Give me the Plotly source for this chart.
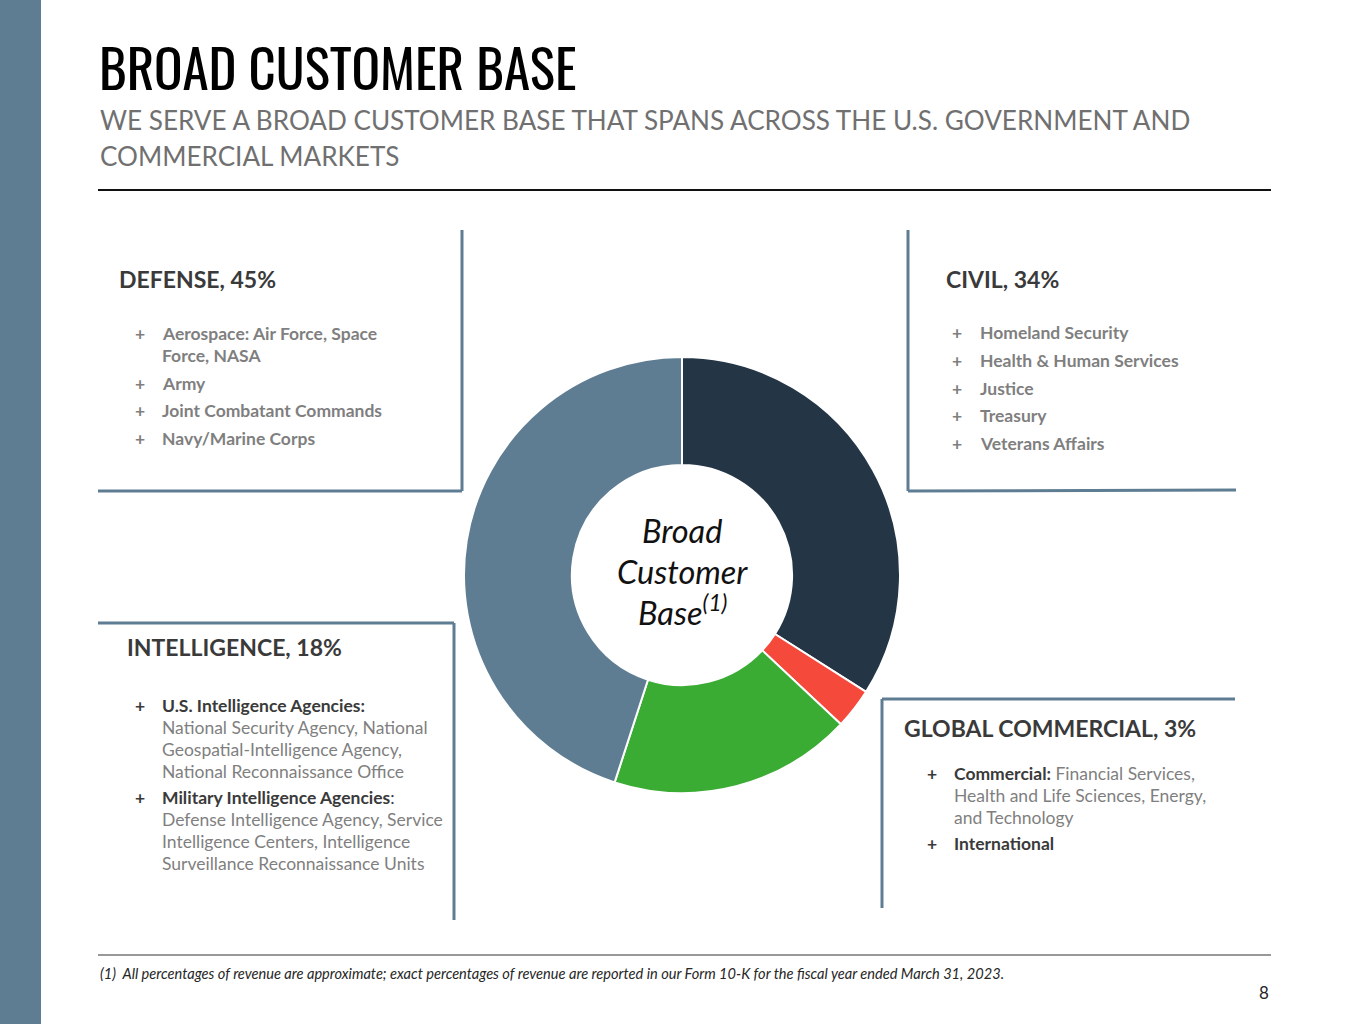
import plotly.graph_objects as go

W, H = 1365, 1024

# ---- data ----
segments = ["Civil", "Global Commercial", "Intelligence", "Defense"]
shares = [34, 3, 18, 45]
seg_colors = ["#243546", "#f5493c", "#3aac33", "#5e7d93"]

title = "BROAD CUSTOMER BASE"
subtitle_lines = ["WE SERVE A BROAD CUSTOMER BASE THAT SPANS ACROSS THE U.S. GOVERNMENT AND",
                  "COMMERCIAL MARKETS"]
footnote = "(1)  All percentages of revenue are approximate; exact percentages of revenue are reported in our Form 10-K for the fiscal year ended March 31, 2023."

BODY = "Lato, 'Open Sans', sans-serif"
TITLE_FONT = "Oswald, 'Roboto Condensed', 'Liberation Sans Narrow', 'DejaVu Sans Condensed', sans-serif"
DARK = "#3a3a3a"
GRAY = "#7f7f7f"
LINE = "#5e7d93"
BS = 17.5   # bullet text size
HS = 23     # heading size


def px(x):
    return x / W


def py(y):
    return 1 - y / H


fig = go.Figure()
fig.add_trace(go.Pie(
    labels=segments, values=shares, sort=False, direction="clockwise",
    rotation=0, hole=0.505,
    marker=dict(colors=seg_colors, line=dict(color="white", width=2)),
    textinfo="none", hoverinfo="label+percent", showlegend=False,
    domain=dict(x=[px(464), px(900)], y=[py(793), py(357)]),
))

ann = []


def txt(x, y, text, size, color, family=BODY, xanchor="left"):
    if xanchor == "left":
        x -= 2
    ann.append(dict(x=px(x), y=py(y), xref="paper", yref="paper", text=text,
                    showarrow=False, xanchor=xanchor, yanchor="middle",
                    font=dict(size=size, color=color, family=family)))


# title & subtitle
txt(99, 66, title, 53, "#000000", TITLE_FONT)
txt(100, 120, subtitle_lines[0], 26.1, "#707070")
txt(100, 156, subtitle_lines[1], 26.1, "#707070")

# Defense box
txt(119, 279, "<b>DEFENSE, 45%</b>", HS, DARK)
defense = [(333, "Aerospace: Air Force, Space", True), (355, "Force, NASA", False),
           (383, "Army", True), (410, "Joint Combatant Commands", True),
           (438, "Navy/Marine Corps", True)]
for y, t, bullet in defense:
    if bullet:
        txt(135, y, "<b>+</b>", BS, GRAY)
    txt(162, y, "<b>" + t + "</b>", BS, GRAY)

# Civil box
txt(946, 279, "<b>CIVIL, 34%</b>", HS, DARK)
civil = [(332, "Homeland Security"), (360, "Health &amp; Human Services"), (388, "Justice"),
         (415, "Treasury"), (443, "Veterans Affairs")]
for y, t in civil:
    txt(952, y, "<b>+</b>", BS, GRAY)
    txt(980, y, "<b>" + t + "</b>", BS, GRAY)

# Intelligence box
txt(127, 647, "<b>INTELLIGENCE, 18%</b>", HS, DARK)
intel = [(705, "<b>U.S. Intelligence Agencies:</b>", True),
         (727, "National Security Agency, National", False),
         (749, "Geospatial-Intelligence Agency,", False),
         (771, "National Reconnaissance Office", False),
         (797, "<b>Military Intelligence Agencies</b>:", True),
         (819, "Defense Intelligence Agency, Service", False),
         (841, "Intelligence Centers, Intelligence", False),
         (863, "Surveillance Reconnaissance Units", False)]
for y, t, bullet in intel:
    if bullet:
        txt(135, y, "<b>+</b>", BS, DARK)
        txt(162, y, t, BS, DARK)
    else:
        txt(162, y, t, BS, GRAY)

# Global Commercial box
txt(904, 728, "<b>GLOBAL COMMERCIAL, 3%</b>", HS, DARK)
txt(927, 773, "<b>+</b>", BS, DARK)
txt(954, 773, "<b>Commercial:</b> <span style='color:%s'>Financial Services,</span>" % GRAY, BS, DARK)
txt(954, 795, "Health and Life Sciences, Energy,", BS, GRAY)
txt(954, 817, "and Technology", BS, GRAY)
txt(927, 843, "<b>+</b>", BS, DARK)
txt(954, 843, "<b>International</b>", BS, DARK)

# centre text
txt(682, 530, "<i>Broad</i>", 32.5, "#111111", xanchor="center")
txt(682, 571, "<i>Customer</i>", 32.5, "#111111", xanchor="center")
txt(682, 610, "<i>Base<sup>(1)</sup></i>", 32.5, "#111111", xanchor="center")

# footer
txt(100, 973, "<i>" + footnote + "</i>", 14.6, "#262626")
txt(1271, 992, "8", 17, "#262626", xanchor="right")

shapes = [
    dict(type="rect", xref="paper", yref="paper", x0=0, x1=px(41), y0=0, y1=1,
         fillcolor="#5e7d93", line=dict(width=0), layer="below"),
    dict(type="line", xref="paper", yref="paper", x0=px(98), x1=px(1271), y0=py(190), y1=py(190),
         line=dict(color="#111111", width=2)),
    dict(type="line", xref="paper", yref="paper", x0=px(98), x1=px(1271), y0=py(955), y1=py(955),
         line=dict(color="#333333", width=1)),
]


def seg(x0, y0, x1, y1):
    shapes.append(dict(type="line", xref="paper", yref="paper", x0=px(x0), x1=px(x1),
                       y0=py(y0), y1=py(y1), line=dict(color=LINE, width=3)))


# Defense frame
seg(462, 230, 462, 491); seg(98, 491, 462, 491)
# Civil frame
seg(908, 230, 908, 491); seg(908, 491, 1236, 490)
# Intelligence frame
seg(98, 623, 454, 623); seg(454, 623, 454, 920)
# Global commercial frame
seg(882, 699, 1235, 699); seg(882, 699, 882, 908)

fig.update_layout(width=W, height=H, margin=dict(l=0, r=0, t=0, b=0),
                  paper_bgcolor="white", plot_bgcolor="white",
                  annotations=ann, shapes=shapes)
fig.write_html("out.html", config={"displayModeBar": False},
               post_script="document.body.style.margin='0px';")
